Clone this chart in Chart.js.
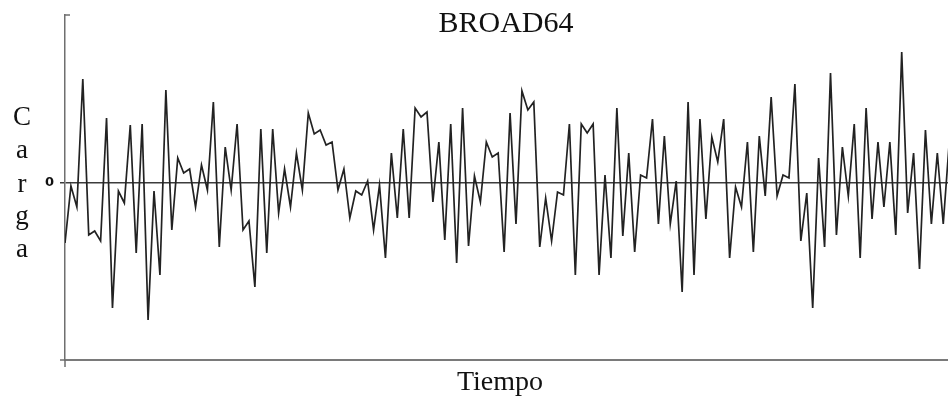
<!DOCTYPE html>
<html>
<head>
<meta charset="utf-8">
<title>BROAD64</title>
<script src="https://cdn.jsdelivr.net/npm/chart.js@4.4.1/dist/chart.umd.min.js"></script>
<style>
    html, body { margin: 0; padding: 0; background: #fff; }
</style>
</head>
<body>
<canvas id="cargaChart" width="948" height="400"></canvas>
<script>
// carga sampled at each time step (arbitrary units, 0 = baseline)
const carga = [
    -60, -3, -24, 104, -52, -48, -58, 65, -125, -8,
    -20, 58, -70, 59, -137, -8, -92, 93, -47, 25,
    10, 14, -24, 18, -7, 81, -64, 36, -7, 59,
    -47, -38, -104, 54, -70, 54, -30, 14, -24, 30,
    -7, 70, 49, 53, 38, 41, -7, 14, -35, -8,
    -12, 2, -47, -2, -75, 30, -35, 54, -35, 75,
    66, 71, -19, 41, -57, 59, -80, 75, -63, 7,
    -19, 41, 26, 30, -69, 70, -41, 92, 73, 81,
    -64, -15, -58, -9, -12, 59, -92, 59, 50, 59,
    -92, 8, -75, 75, -53, 30, -69, 8, 5, 64,
    -41, 47, -41, 2, -109, 81, -92, 64, -36, 46,
    21, 64, -75, -4, -24, 41, -69, 47, -13, 86,
    -13, 8, 5, 99, -58, -10, -125, 25, -64, 110,
    -52, 36, -13, 59, -75, 75, -36, 41, -24, 41,
    -52, 131, -30, 30, -86, 53, -41, 30, -41, 40
];
const yTicks = [0];
const yMin = -177, yMax = 168;
const tiempoMax = 148.8;  // last sample runs off the right edge

const serif = '"Liberation Serif", "Times New Roman", serif';

// axis titles, heading and the little end ticks on the axes
const textos = {
    id: 'textos',
    afterDraw(chart) {
        const ctx = chart.ctx;
        const area = chart.chartArea;
        ctx.save();

        ctx.strokeStyle = '#6f6f6f';
        ctx.lineWidth = 1.5;
        ctx.beginPath();
        ctx.moveTo(area.left, area.top);
        ctx.lineTo(area.left + 5, area.top);
        ctx.moveTo(area.left, area.bottom);
        ctx.lineTo(area.left, area.bottom + 7);
        ctx.moveTo(area.left - 5, area.bottom);
        ctx.lineTo(area.left, area.bottom);
        ctx.stroke();

        ctx.fillStyle = '#111';
        ctx.textAlign = 'center';
        ctx.textBaseline = 'alphabetic';
        ctx.font = '30px ' + serif;
        ctx.fillText('BROAD64', 506, 32);

        ctx.font = '28px ' + serif;
        ctx.fillText('Tiempo', 500, 390);

        ctx.font = '27px ' + serif;
        const letras = 'Carga'.split('');
        const base = [125, 158, 192, 224, 257];
        letras.forEach((l, i) => ctx.fillText(l, 22, base[i]));
        ctx.restore();
    }
};

new Chart(document.getElementById('cargaChart'), {
    type: 'line',
    data: {
        datasets: [{
            label: 'Carga',
            data: carga.map((v, i) => ({ x: i, y: v })),
            borderColor: '#222',
            borderWidth: 1.7,
            pointRadius: 0,
            tension: 0,
            fill: false
        }]
    },
    options: {
        responsive: false,
        animation: false,
        events: [],
        layout: {
            padding: { top: 15, left: 0, right: 0, bottom: 0 }
        },
        plugins: {
            legend: { display: false },
            tooltip: { enabled: false }
        },
        scales: {
            x: {
                type: 'linear',
                min: 0,
                max: tiempoMax,
                ticks: { display: false },
                grid: { display: false, drawTicks: false },
                border: { display: true, color: '#7a7a7a', width: 2 },
                afterFit: s => { s.height = 40; }
            },
            y: {
                min: yMin,
                max: yMax,
                afterBuildTicks: s => { s.ticks = yTicks.map(v => ({ value: v })); },
                ticks: {
                    color: '#111',
                    padding: 6,
                    font: { family: '"DejaVu Sans", sans-serif', size: 13, weight: 'bold' }
                },
                grid: { color: '#3c3c3c', lineWidth: 1.5, tickLength: 5, drawTicks: true },
                border: { display: true, color: '#6f6f6f', width: 1.5 },
                afterFit: s => { s.width = 65; }
            }
        }
    },
    plugins: [textos]
});
</script>
</body>
</html>
